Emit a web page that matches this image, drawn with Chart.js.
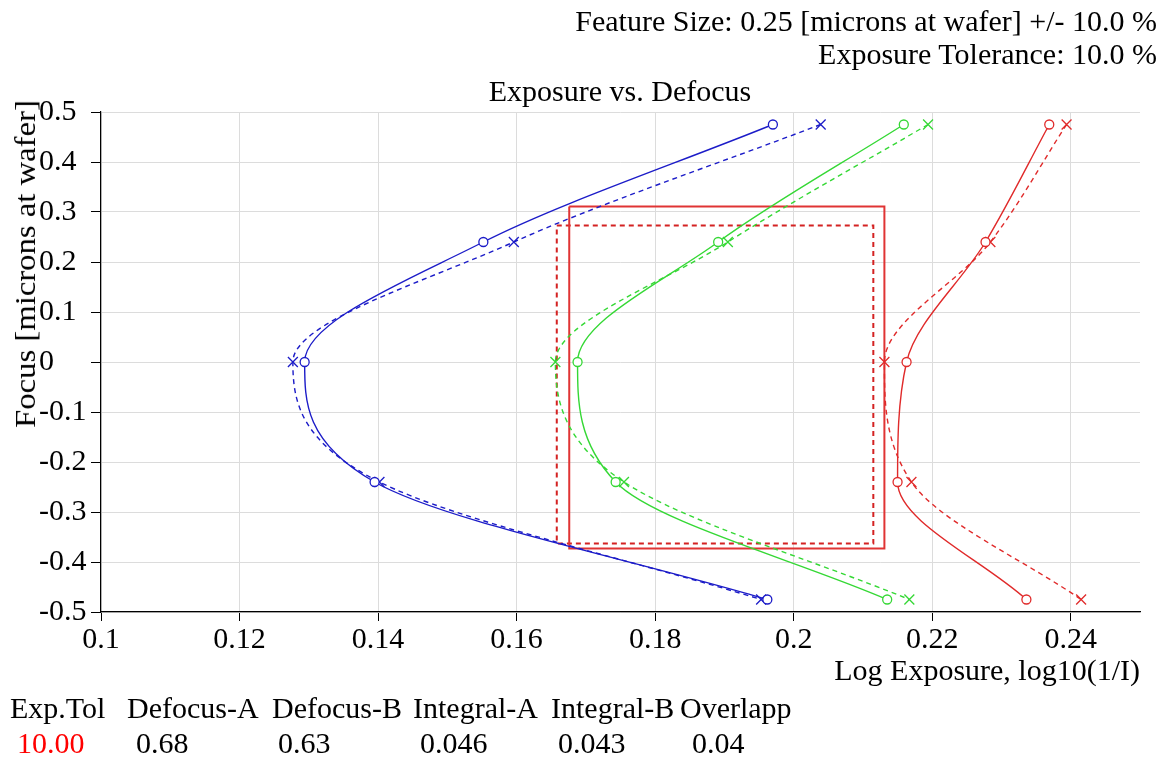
<!DOCTYPE html>
<html>
<head>
<meta charset="utf-8">
<script src="https://cdn.jsdelivr.net/npm/chart.js@4"></script>
<style>
html,body{margin:0;padding:0;background:#fff;}
#wrap{position:relative;width:1165px;height:757px;overflow:hidden;font-family:"Liberation Serif","Times New Roman",serif;color:#000;}
#c{position:absolute;left:0;top:0;}
.t{position:absolute;white-space:nowrap;font-size:30px;line-height:30px;}
</style>
</head>
<body>
<div id="wrap">
<canvas id="c" width="1165" height="757"></canvas>
<div class="t" style="right:8px;top:6px">Feature Size: 0.25 [microns at wafer] +/- 10.0 %</div>
<div class="t" style="right:8px;top:39px">Exposure Tolerance: 10.0 %</div>
<div class="t" style="left:620px;top:76px;transform:translateX(-50%)">Exposure vs. Defocus</div>
<div class="t" style="left:25px;top:264px;transform:translate(-50%,-50%) rotate(-90deg) scale(1.09,1)">Focus [microns at wafer]</div>
<div id="tbl"></div>
</div>
<script>
// ---- data ----
const focusLevels = [0.475, 0.24, 0, -0.24, -0.475];
const blueSolidX  = [0.1970, 0.1552, 0.1294, 0.1395, 0.1962];
const blueDashedX = [0.2039, 0.1596, 0.1277, 0.1402, 0.1953];
const greenSolidX  = [0.2159, 0.1891, 0.1688, 0.1743, 0.2135];
const greenDashedX = [0.2194, 0.1905, 0.1656, 0.1755, 0.2167];
const redSolidX  = [0.2369, 0.2277, 0.2163, 0.2150, 0.2336];
const redDashedX = [0.2394, 0.2284, 0.2131, 0.2170, 0.2415];
const rectSolidX  = [0.1676, 0.2131];
const rectSolidY  = [-0.373, 0.311];
const rectDashedX = [0.1658, 0.2115];
const rectDashedY = [-0.363, 0.273];
const xTicks = [0.1, 0.12, 0.14, 0.16, 0.18, 0.2, 0.22, 0.24];
const xTickLabels = ['0.1', '0.12', '0.14', '0.16', '0.18', '0.2', '0.22', '0.24'];
const yTicks = [-0.5, -0.4, -0.3, -0.2, -0.1, 0, 0.1, 0.2, 0.3, 0.4, 0.5];
const yTickLabels = ['-0.5', '-0.4', '-0.3', '-0.2', '-0.1', '0', '0.1', '0.2', '0.3', '0.4', '0.5'];
const tableHeaders = ['Exp.Tol', 'Defocus-A', 'Defocus-B', 'Integral-A', 'Integral-B', 'Overlapp'];
const tableValues  = ['10.00', '0.68', '0.63', '0.046', '0.043', '0.04'];

// ---- layout (positions only) ----
const headerLeft = [10, 127, 272, 413, 551, 680];
const valueLeft  = [17, 136, 278, 420, 558, 692];
const tbl = document.getElementById('tbl');
tableHeaders.forEach((h, i) => {
  const d = document.createElement('div');
  d.className = 't'; d.textContent = h;
  d.style.left = headerLeft[i] + 'px'; d.style.top = '693px';
  tbl.appendChild(d);
});
tableValues.forEach((v, i) => {
  const d = document.createElement('div');
  d.className = 't'; d.textContent = v;
  d.style.left = valueLeft[i] + 'px'; d.style.top = '728px';
  d.style.color = i === 0 ? '#ff0000' : '#000';
  tbl.appendChild(d);
});

function pts(xs) { return focusLevels.map((f, i) => ({ x: xs[i], y: f })); }
function rect(xs, ys) {
  return [{x: xs[0], y: ys[1]}, {x: xs[1], y: ys[1]}, {x: xs[1], y: ys[0]}, {x: xs[0], y: ys[0]}, {x: xs[0], y: ys[1]}];
}
const BLUE = '#1c1cc8', GREEN = '#35d835', RED = '#e02a2a';
function solid(xs, c) {
  return { data: pts(xs), showLine: true, indexAxis: 'y', cubicInterpolationMode: 'monotone',
    borderColor: c, borderWidth: 1.4,
    pointStyle: 'circle', pointRadius: 4.5, pointBorderColor: c, pointBackgroundColor: '#fff', pointBorderWidth: 1.3 };
}
function dashed(xs, c) {
  return { data: pts(xs), showLine: true, indexAxis: 'y', cubicInterpolationMode: 'monotone',
    borderColor: c, borderWidth: 1.4, borderDash: [5, 4],
    pointStyle: 'crossRot', pointRadius: 7, pointBorderColor: c, pointBackgroundColor: c, pointBorderWidth: 1.3 };
}
const datasets = [
  solid(blueSolidX, BLUE), dashed(blueDashedX, BLUE),
  solid(greenSolidX, GREEN), dashed(greenDashedX, GREEN),
  solid(redSolidX, RED), dashed(redDashedX, RED),
  { data: rect(rectSolidX, rectSolidY), showLine: true, indexAxis: 'y', borderColor: '#e03434', borderWidth: 2, tension: 0, pointRadius: 0 },
  { data: rect(rectDashedX, rectDashedY), showLine: true, indexAxis: 'y', borderColor: '#d42222', borderWidth: 2, borderDash: [5, 4], tension: 0, pointRadius: 0 }
];

const FONT = { family: "'Liberation Serif', 'Times New Roman', serif", size: 30 };
new Chart(document.getElementById('c'), {
  type: 'scatter',
  data: { datasets },
  options: {
    responsive: false, animation: false, devicePixelRatio: 1,
    indexAxis: 'y',
    layout: { padding: { left: 39, right: 25, top: 112, bottom: 57 } },
    plugins: { legend: { display: false }, tooltip: { enabled: false }, title: { display: false } },
    scales: {
      x: {
        type: 'linear', axis: 'x', position: 'bottom', min: 0.1, max: 0.25,
        afterFit: s => { s.height = 88; },
        afterBuildTicks: s => { s.ticks = xTicks.map(v => ({ value: v })); },
        ticks: { callback: (v, i) => xTickLabels[i], font: FONT, color: '#000', padding: 1, maxRotation: 0, autoSkip: false },
        grid: { color: '#dcdcdc', tickColor: '#000', tickLength: 9, lineWidth: 1 },
        border: { color: '#000', width: 1.2 },
        title: { display: true, text: 'Log Exposure, log10(1/I)', align: 'end', font: FONT, color: '#000', padding: { top: 0, bottom: 10 } }
      },
      y: {
        type: 'linear', axis: 'y', position: 'left', min: -0.5, max: 0.5,
        afterFit: s => { s.width = 62; },
        afterBuildTicks: s => { s.ticks = yTicks.map(v => ({ value: v })); },
        ticks: { callback: (v, i) => yTickLabels[i], font: FONT, color: '#000', crossAlign: 'far', autoSkip: false },
        grid: { color: '#dcdcdc', tickColor: '#000', tickLength: 10, lineWidth: 1 },
        border: { color: '#000', width: 1.2 }
      }
    }
  }
});
</script>
</body>
</html>
